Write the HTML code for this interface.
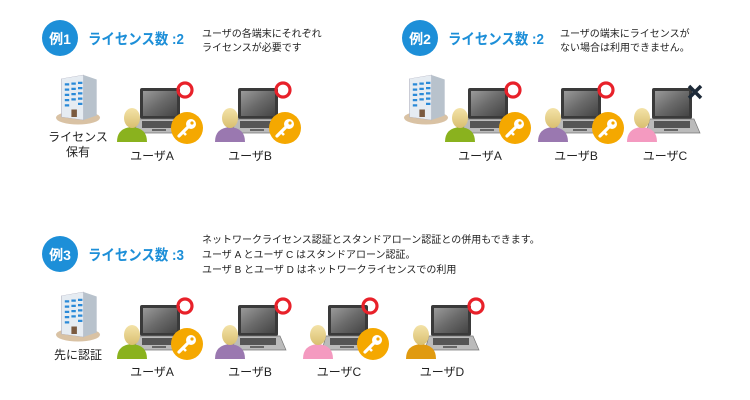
<!DOCTYPE html>
<html><head><meta charset="utf-8"><style>
body{margin:0;background:#fff;}
svg{display:block;font-family:"Liberation Sans","Noto Sans CJK JP",sans-serif;}
</style></head><body>
<svg width="750" height="400" viewBox="0 0 750 400" xmlns="http://www.w3.org/2000/svg">
<defs>
<linearGradient id="scr" x1="0" y1="0" x2="1" y2="1"><stop offset="0" stop-color="#9a9a9a"/><stop offset="0.5" stop-color="#6a6a6a"/><stop offset="1" stop-color="#444"/></linearGradient>
<linearGradient id="head" x1="0" y1="0" x2="0" y2="1"><stop offset="0" stop-color="#f4e3a8"/><stop offset="1" stop-color="#d9bf70"/></linearGradient>
<g id="laptop">
 <rect x="0" y="0" width="40" height="31" rx="2" fill="#3a3a3a"/>
 <rect x="3" y="3" width="34" height="25" fill="url(#scr)"/>
 <polygon points="-2,31 42,31 48,45 -6,45" fill="#bbb" stroke="#777" stroke-width="0.7"/>
 <rect x="2" y="33" width="36" height="7" fill="#555"/>
 <rect x="12" y="41" width="14" height="2" fill="#666"/>
</g>
<g id="bldg0">
 <ellipse cx="0" cy="37" rx="20" ry="9" fill="#d9c2a4"/>
 <polygon points="-15,-15 5,-20 5,40 -15,36" fill="#e6ecf2" stroke="#aab" stroke-width="0.5"/>
 <polygon points="5,-20 17,-14 17,34 5,40" fill="#b8c2cc"/>
 <g fill="#2a8ad8">
 <rect x="-12" y="-9" width="4" height="3"/><rect x="-6" y="-10" width="4" height="3"/><rect x="0" y="-11" width="4" height="3"/>
 <rect x="-12" y="-2" width="4" height="3"/><rect x="-6" y="-3" width="4" height="3"/><rect x="0" y="-4" width="4" height="3"/>
 <rect x="-12" y="5" width="4" height="3"/><rect x="-6" y="4" width="4" height="3"/><rect x="0" y="3" width="4" height="3"/>
 <rect x="-12" y="12" width="4" height="3"/><rect x="-6" y="11" width="4" height="3"/><rect x="0" y="10" width="4" height="3"/>
 <rect x="-12" y="19" width="4" height="3"/><rect x="0" y="17" width="4" height="3"/>
 </g>
 <rect x="-6" y="26" width="5" height="10" fill="#7a5a40"/>
</g>
<g id="key">
 <circle cx="0" cy="0" r="16" fill="#f5a800"/>
 <circle cx="4" cy="-4" r="5" fill="#fff"/>
 <circle cx="5" cy="-5" r="1.6" fill="#f5a800"/>
 <line x1="2" y1="-2" x2="-8" y2="8" stroke="#fff" stroke-width="3.2" stroke-linecap="round"/>
 <line x1="-4" y1="4" x2="-1" y2="7" stroke="#fff" stroke-width="2.6"/>
</g>
<g id="ok"><circle cx="0" cy="0" r="7" fill="none" stroke="#e8212a" stroke-width="3.2"/></g>
</defs>

<!-- Example 1 -->
<circle cx="60" cy="38" r="18" fill="#1d8fd8"/>
<text x="60" y="44" font-size="14" font-weight="bold" fill="#fff" text-anchor="middle">例1</text>
<text x="88" y="44" font-size="15" font-weight="bold" fill="#1d8fd8" textLength="96" lengthAdjust="spacingAndGlyphs">ライセンス数 :2</text>
<text x="202" y="37" font-size="10" fill="#222">ユーザの各端末にそれぞれ</text>
<text x="202" y="51" font-size="10" fill="#222">ライセンスが必要です</text>
<g transform="translate(78,90) scale(1.1,0.75)"><use href="#bldg0"/></g>
<text x="78" y="141" font-size="12" fill="#222" text-anchor="middle">ライセンス</text>
<text x="78" y="156" font-size="12" fill="#222" text-anchor="middle">保有</text>

<!-- Example 2 -->
<circle cx="420" cy="38" r="18" fill="#1d8fd8"/>
<text x="420" y="44" font-size="14" font-weight="bold" fill="#fff" text-anchor="middle">例2</text>
<text x="448" y="44" font-size="15" font-weight="bold" fill="#1d8fd8" textLength="96" lengthAdjust="spacingAndGlyphs">ライセンス数 :2</text>
<text x="560" y="37" font-size="10" fill="#222">ユーザの端末にライセンスが</text>
<text x="560" y="51" font-size="10" fill="#222">ない場合は利用できません。</text>
<g transform="translate(426,90) scale(1.1,0.75)"><use href="#bldg0"/></g>

<!-- Example 3 -->
<circle cx="60" cy="254" r="18" fill="#1d8fd8"/>
<text x="60" y="260" font-size="14" font-weight="bold" fill="#fff" text-anchor="middle">例3</text>
<text x="88" y="260" font-size="15" font-weight="bold" fill="#1d8fd8" textLength="96" lengthAdjust="spacingAndGlyphs">ライセンス数 :3</text>
<text x="202" y="243" font-size="10" fill="#222">ネットワークライセンス認証とスタンドアローン認証との併用もできます。</text>
<text x="202" y="258" font-size="10" fill="#222">ユーザ A とユーザ C はスタンドアローン認証。</text>
<text x="202" y="273" font-size="10" fill="#222">ユーザ B とユーザ D はネットワークライセンスでの利用</text>
<g transform="translate(78,307) scale(1.1,0.75)"><use href="#bldg0"/></g>
<text x="78" y="359" font-size="12" fill="#222" text-anchor="middle">先に認証</text>

<!-- Ex1 A -->
<use href="#laptop" x="140" y="88"/>
<path d="M117,142 Q117,128 132,127 Q147,128 147,142 Z" fill="#8ab21e"/>
<ellipse cx="132" cy="118" rx="8" ry="10" fill="url(#head)"/>
<use href="#ok" x="185" y="90"/><use href="#key" x="187" y="128"/>
<text x="152" y="160" font-size="12" fill="#222" text-anchor="middle">ユーザA</text>
<!-- Ex1 B -->
<use href="#laptop" x="238" y="88"/>
<path d="M215,142 Q215,128 230,127 Q245,128 245,142 Z" fill="#9a78b0"/>
<ellipse cx="230" cy="118" rx="8" ry="10" fill="url(#head)"/>
<use href="#ok" x="283" y="90"/><use href="#key" x="285" y="128"/>
<text x="250" y="160" font-size="12" fill="#222" text-anchor="middle">ユーザB</text>

<!-- Ex2 A -->
<use href="#laptop" x="468" y="88"/>
<path d="M445,142 Q445,128 460,127 Q475,128 475,142 Z" fill="#8ab21e"/>
<ellipse cx="460" cy="118" rx="8" ry="10" fill="url(#head)"/>
<use href="#ok" x="513" y="90"/><use href="#key" x="515" y="128"/>
<text x="480" y="160" font-size="12" fill="#222" text-anchor="middle">ユーザA</text>
<!-- Ex2 B -->
<use href="#laptop" x="561" y="88"/>
<path d="M538,142 Q538,128 553,127 Q568,128 568,142 Z" fill="#9a78b0"/>
<ellipse cx="553" cy="118" rx="8" ry="10" fill="url(#head)"/>
<use href="#ok" x="606" y="90"/><use href="#key" x="608" y="128"/>
<text x="576" y="160" font-size="12" fill="#222" text-anchor="middle">ユーザB</text>
<!-- Ex2 C -->
<use href="#laptop" x="652" y="88"/>
<path d="M627,142 Q627,128 642,127 Q657,128 657,142 Z" fill="#f49ac0"/>
<ellipse cx="642" cy="118" rx="8" ry="10" fill="url(#head)"/>
<path d="M689,86 L701,98 M701,86 L689,98" stroke="#1d2a38" stroke-width="3.5"/>
<text x="665" y="160" font-size="12" fill="#222" text-anchor="middle">ユーザC</text>

<!-- Ex3 A -->
<use href="#laptop" x="140" y="305"/>
<path d="M117,359 Q117,345 132,344 Q147,345 147,359 Z" fill="#8ab21e"/>
<ellipse cx="132" cy="335" rx="8" ry="10" fill="url(#head)"/>
<use href="#ok" x="185" y="306"/><use href="#key" x="187" y="344"/>
<text x="152" y="376" font-size="12" fill="#222" text-anchor="middle">ユーザA</text>
<!-- Ex3 B -->
<use href="#laptop" x="238" y="305"/>
<path d="M215,359 Q215,345 230,344 Q245,345 245,359 Z" fill="#9a78b0"/>
<ellipse cx="230" cy="335" rx="8" ry="10" fill="url(#head)"/>
<use href="#ok" x="283" y="306"/>
<text x="250" y="376" font-size="12" fill="#222" text-anchor="middle">ユーザB</text>
<!-- Ex3 C -->
<use href="#laptop" x="328" y="305"/>
<path d="M303,359 Q303,345 318,344 Q333,345 333,359 Z" fill="#f49ac0"/>
<ellipse cx="318" cy="335" rx="8" ry="10" fill="url(#head)"/>
<use href="#ok" x="370" y="306"/><use href="#key" x="373" y="344"/>
<text x="339" y="376" font-size="12" fill="#222" text-anchor="middle">ユーザC</text>
<!-- Ex3 D -->
<use href="#laptop" x="431" y="305"/>
<path d="M406,359 Q406,345 421,344 Q436,345 436,359 Z" fill="#e09a10"/>
<ellipse cx="421" cy="335" rx="8" ry="10" fill="url(#head)"/>
<use href="#ok" x="476" y="306"/>
<text x="442" y="376" font-size="12" fill="#222" text-anchor="middle">ユーザD</text>
</svg>
</body></html>
